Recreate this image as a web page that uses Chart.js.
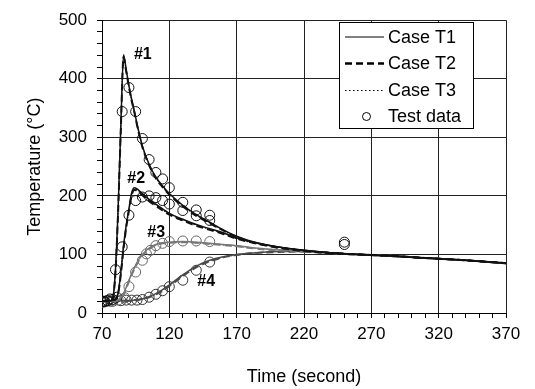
<!DOCTYPE html>
<html>
<head>
<meta charset="utf-8">
<script src="https://cdn.jsdelivr.net/npm/chart.js@4/dist/chart.umd.min.js"></script>
<style>
  html, body { margin: 0; padding: 0; background: #fff; }
  #myChart { display: block; }
</style>
</head>
<body>
<canvas id="myChart" width="535" height="389"></canvas>
<script>
// ---------------------------------------------------------------------------------------------
// model curves, all cases share the same time points (second)
const modelTime = [70, 76, 78, 80, 82, 84, 86, 88, 90, 92, 94, 96, 98, 100, 105, 110, 115, 120,
  130, 140, 150, 160, 170, 180, 200, 220, 250, 280, 310, 340, 370];

// location #1
const loc1T1 = [20, 21, 25, 74, 180, 320, 441, 415, 388, 365, 345, 323, 303, 285, 254, 232, 217, 204,
  184, 168, 155, 142, 131, 123, 113, 107, 101, 98, 94, 90, 85];
const loc1T2 = [20, 21, 24, 70, 175, 315, 437, 412, 386, 363, 343, 321, 301, 283, 252, 230, 215, 202,
  182, 166, 153, 141, 130, 122, 112, 106, 101, 98, 94, 90, 85];
const loc1T3 = [20, 21, 25, 72, 178, 318, 439, 414, 387, 364, 344, 322, 302, 284, 253, 231, 216, 203,
  183, 167, 154, 141, 130, 122, 113, 107, 101, 98, 94, 90, 85];
// location #2
const loc2T1 = [20, 21, 22, 23, 35, 70, 115, 150, 178, 205, 214, 212, 208, 204, 194, 186, 178, 170,
  160, 151, 144, 137, 128, 122, 113, 107, 101, 98, 94, 90, 85];
const loc2T2 = [20, 21, 22, 23, 33, 66, 110, 146, 175, 201, 210, 209, 205, 201, 191, 183, 175, 168,
  158, 149, 142, 135, 127, 121, 112, 106, 101, 98, 94, 90, 85];
const loc2T3 = [20, 21, 22, 23, 34, 68, 112, 148, 176, 203, 212, 210, 206, 202, 192, 184, 176, 169,
  159, 150, 143, 136, 127, 121, 113, 107, 101, 98, 94, 90, 85];
// location #3
const loc3T1 = [20, 20, 21, 21, 22, 26, 33, 44, 56, 67, 77, 86, 94, 100, 111, 117, 120, 121,
  122, 121, 119, 117, 115, 112, 108, 105, 101, 98, 94, 90, 85];
const loc3T2 = [20, 20, 21, 21, 22, 25, 31, 42, 54, 65, 75, 84, 92, 98, 109, 116, 119, 120,
  121, 120, 118, 116, 114, 111, 107, 105, 101, 98, 94, 90, 85];
const loc3T3 = [20, 20, 21, 21, 22, 25, 32, 43, 55, 66, 76, 85, 93, 99, 110, 116, 119, 120,
  121, 120, 118, 116, 114, 111, 108, 105, 101, 98, 94, 90, 85];
// location #4
const loc4T1 = [20, 20, 20, 20, 21, 21, 21, 21, 21, 21, 22, 22, 23, 24, 28, 33, 40, 48,
  65, 80, 90, 96, 100, 102, 105, 105, 101, 98, 94, 90, 85];
const loc4T2 = [20, 20, 20, 20, 21, 21, 21, 21, 21, 21, 22, 22, 23, 24, 27, 32, 38, 46,
  63, 78, 88, 95, 99, 102, 104, 105, 101, 98, 94, 90, 85];
const loc4T3 = [20, 20, 20, 20, 21, 21, 21, 21, 21, 21, 22, 22, 23, 24, 27, 32, 39, 47,
  64, 79, 89, 95, 99, 102, 105, 105, 101, 98, 94, 90, 85];

// test data
const test1Time = [70, 72, 74, 76, 80, 85, 90, 95, 100, 105, 110, 115, 120, 130, 140, 150, 250];
const test1Temp = [19, 20, 21, 24, 74, 344, 385, 344, 298, 262, 240, 229, 214, 189, 176, 167, 121];
const test2Time = [71, 74, 78, 81, 85, 90, 95, 100, 105, 110, 115, 120, 130, 140, 150, 250];
const test2Temp = [20, 21, 23, 27, 113, 167, 192, 198, 200, 197, 192, 186, 175, 166, 158, 117];
const test3Time = [70, 76, 82, 87, 90, 95, 100, 103, 106, 110, 115, 120, 130, 140, 150];
const test3Temp = [18, 20, 22, 26, 45, 70, 90, 101, 107, 115, 119, 122, 123, 123, 122];
const test4Time = [72, 78, 84, 88, 92, 96, 100, 105, 110, 115, 120, 130, 140, 150];
const test4Temp = [19, 20, 21, 22, 22, 22, 23, 27, 32, 38, 45, 56, 73, 87];

// curve labels, placed in data units
const labelText = ["#1", "#2", "#3", "#4"];
const labelTime = [100.3, 95.4, 110.3, 147.4];
const labelTemp = [442, 230, 137, 53];

const xTicks = [70, 120, 170, 220, 270, 320, 370];
const yTicks = [0, 100, 200, 300, 400, 500];
const legendNames = ["Case T1", "Case T2", "Case T3", "Test data"];
// ---------------------------------------------------------------------------------------------
const FONT = "'Liberation Sans', Arial, sans-serif";
const ctx = document.getElementById("myChart");

function toPoints(xs, ys) {
  return xs.map((x, i) => ({ x: x, y: ys[i] }));
}

const caseStyle = [
  { width: 1.5, dash: [] },
  { width: 2, dash: [7, 4] },
  { width: 1.2, dash: [1.5, 2.5] },
];
const locColor = ["#111", "#111", "#777", "#4a4a4a"];
const circleColor = ["#111", "#111", "#666", "#333"];

const curves = [
  [loc1T1, loc1T2, loc1T3],
  [loc2T1, loc2T2, loc2T3],
  [loc3T1, loc3T2, loc3T3],
  [loc4T1, loc4T2, loc4T3],
];
const tests = [
  [test1Time, test1Temp],
  [test2Time, test2Temp],
  [test3Time, test3Temp],
  [test4Time, test4Temp],
];

let datasets = [];
curves.forEach((loc, li) => {
  loc.forEach((vals, ci) => {
    datasets.push({
      data: toPoints(modelTime, vals),
      showLine: true,
      borderColor: locColor[li],
      borderWidth: caseStyle[ci].width,
      borderDash: caseStyle[ci].dash,
      pointRadius: 0,
      cubicInterpolationMode: "monotone",
    });
  });
});
tests.forEach((t, li) => {
  datasets.push({
    data: toPoints(t[0], t[1]),
    showLine: false,
    pointRadius: 5,
    pointBorderWidth: 1,
    pointBorderColor: circleColor[li],
    pointBackgroundColor: "rgba(0,0,0,0)",
  });
});

// legend box + curve labels
const extras = {
  id: "extras",
  afterDraw(chart) {
    const c = chart.ctx;
    const sx = chart.scales.x;
    const sy = chart.scales.y;
    c.save();
    c.font = "bold 16px " + FONT;
    c.fillStyle = "#000";
    c.textAlign = "center";
    c.textBaseline = "middle";
    labelText.forEach((t, i) => {
      c.fillText(t, sx.getPixelForValue(labelTime[i]), sy.getPixelForValue(labelTemp[i]));
    });

    const bx = 339.5, by = 22.5, bw = 134, bh = 106;
    c.fillStyle = "#fff";
    c.fillRect(bx, by, bw, bh);
    c.strokeStyle = "#000";
    c.lineWidth = 1;
    c.setLineDash([]);
    c.strokeRect(bx, by, bw, bh);

    const rows = [37, 63.5, 90.5, 116.5];
    c.font = "18px " + FONT;
    c.textAlign = "left";
    c.fillStyle = "#000";
    rows.forEach((ry, i) => {
      if (i < 3) {
        c.beginPath();
        c.lineWidth = i === 1 ? 2.5 : 1;
        c.setLineDash(i === 1 ? [7, 4] : i === 2 ? [1.5, 2.5] : []);
        c.moveTo(345, ry);
        c.lineTo(384, ry);
        c.stroke();
      } else {
        c.beginPath();
        c.setLineDash([]);
        c.lineWidth = 1;
        c.arc(366.5, ry, 4, 0, Math.PI * 2);
        c.stroke();
      }
      c.fillText(legendNames[i], 388, ry + 1);
    });
    c.restore();
  },
};

const myChart = new Chart(ctx, {
  type: "scatter",
  data: { datasets: datasets },
  options: {
    responsive: false,
    animation: false,
    layout: { padding: { top: 18, right: 29, left: 0, bottom: 0 } },
    plugins: { legend: { display: false }, tooltip: { enabled: false } },
    scales: {
      x: {
        type: "linear",
        min: 70,
        max: 370,
        ticks: {
          stepSize: 10,
          autoSkip: false,
          maxRotation: 0,
          color: "#000",
          padding: 6,
          font: { family: FONT, size: 17 },
          callback: (v) => (xTicks.includes(v) ? v : ""),
        },
        grid: {
          color: (c) => (c.tick && xTicks.includes(c.tick.value) ? "#222" : "rgba(0,0,0,0)"),
          tickColor: "#000",
          tickLength: 5,
        },
        border: { color: "#000", width: 1 },
        title: {
          display: true,
          text: "Time (second)",
          color: "#000",
          font: { family: FONT, size: 18 },
          padding: { top: 0, bottom: 1 },
        },
        afterFit: (s) => {
          s.height = 76;
        },
      },
      y: {
        min: 0,
        max: 500,
        ticks: {
          stepSize: 20,
          autoSkip: false,
          color: "#000",
          padding: 10,
          font: { family: FONT, size: 17 },
          callback: (v) => (yTicks.includes(v) ? v : ""),
        },
        grid: {
          color: (c) => (c.tick && yTicks.includes(c.tick.value) ? "#222" : "rgba(0,0,0,0)"),
          tickColor: "#000",
          tickLength: 5,
        },
        border: { color: "#000", width: 1 },
        title: {
          display: true,
          text: "Temperature (°C)",
          color: "#000",
          font: { family: FONT, size: 18 },
          padding: { top: 24, bottom: 0 },
        },
        afterFit: (s) => {
          s.width = 102;
        },
      },
    },
  },
  plugins: [extras],
});
</script>
</body>
</html>
